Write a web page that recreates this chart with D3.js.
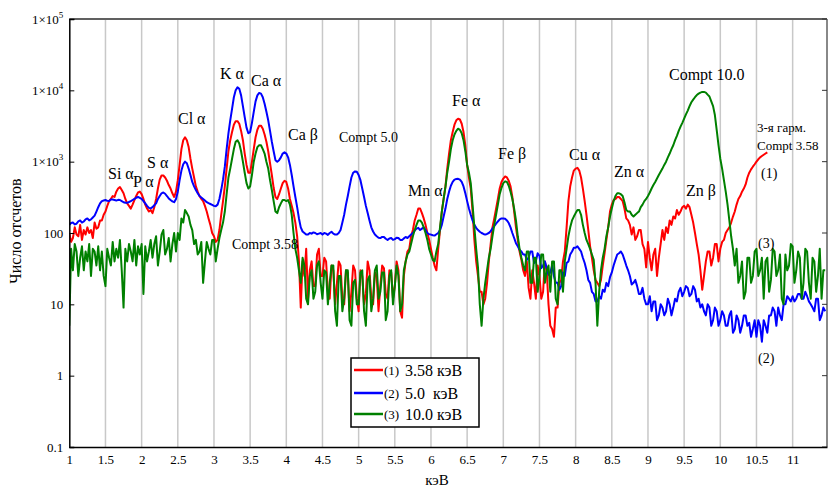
<!DOCTYPE html>
<html>
<head>
<meta charset="utf-8">
<script src="https://cdn.jsdelivr.net/npm/d3@7"></script>
<style>
  body { margin: 0; background: #fff; }
  svg { display: block; font-family: "Liberation Serif", "DejaVu Serif", serif; }
</style>
</head>
<body>
<div id="chart"></div>
<script>
// channel grid: 1.00 keV, step 0.025 keV (one row = 0.5 keV)
var startKeV = 1.0;
var stepKeV = 0.025;

// (1) 3.58 keV excitation
var counts358 = [
  100, 75, 85, 120, 95, 90, 130, 80, 110, 95, 120, 100, 110, 85, 140, 115, 120, 150, 150, 180,
  200, 240, 280, 300, 330, 320, 380, 420, 440, 400, 360, 300, 260, 240, 220, 250, 290, 330, 370, 380,
  350, 300, 250, 220, 200, 210, 190, 230, 300, 420, 560, 640, 640, 600, 540, 470, 420, 360, 320, 380,
  550, 900, 1500, 2000, 2200, 2000, 1600, 1100, 800, 600, 450, 380, 330, 300, 280, 240, 200, 160, 130, 100,
  90, 75, 80, 110, 180, 280, 450, 800, 1400, 2000, 2600, 3300, 3700, 3700, 3400, 2700, 2000, 1300, 900, 700,
  700, 1000, 1500, 2200, 2800, 3200, 3200, 2900, 2400, 1900, 1400, 950, 650, 430, 320, 300, 350, 420, 500, 540,
  520, 420, 300, 240, 190, 140, 90, 40, 9, 40, 25, 60, 12, 30, 40, 18, 18, 50, 60, 25,
  25, 45, 40, 15, 12, 35, 30, 10, 20, 40, 35, 12, 10, 30, 28, 8, 15, 35, 30, 12,
  8, 30, 25, 10, 14, 40, 30, 12, 10, 28, 25, 8, 18, 35, 32, 14, 12, 30, 28, 12,
  18, 40, 30, 8, 6.5, 25, 40, 55, 60, 90, 110, 150, 180, 220, 220, 190, 160, 130, 100, 80,
  60, 45, 35, 30, 60, 110, 200, 300, 450, 800, 1300, 2000, 2600, 3300, 3800, 4000, 3900, 3400, 2600, 1700,
  900, 600, 420, 200, 80, 40, 25, 15, 15, 10, 12, 20, 40, 70, 120, 160, 220, 300, 420, 520,
  580, 620, 600, 540, 450, 320, 200, 120, 80, 55, 42, 30, 25, 40, 17, 12, 30, 20, 12, 35,
  25, 12, 15, 40, 30, 10, 5, 4.5, 3.5, 9, 9, 20, 22, 40, 55, 120, 280, 450, 600, 750,
  800, 820, 750, 600, 420, 280, 180, 110, 65, 45, 30, 22, 20, 18, 22, 35, 52, 80, 120, 200,
  250, 290, 300, 320, 320, 300, 280, 220, 160, 150, 130, 95, 120, 80, 90, 110, 110, 70, 60, 33,
  75, 45, 30, 50, 60, 25, 45, 70, 110, 80, 120, 100, 150, 130, 170, 160, 210, 180, 200, 230,
  240, 220, 250, 230, 180, 140, 100, 70, 50, 30, 16, 25, 40, 55, 55, 35, 45, 70, 70, 40,
  60, 75, 80, 100, 110, 120, 140, 170, 200, 250, 300, 330, 380, 420, 480, 600, 700, 780, 850, 920,
  1000, 1080, 1150, 1200, 1250, 1300, 1350
];

// (2) 5.0 keV excitation
var counts50 = [
  130, 138, 140, 132, 135, 145, 150, 140, 145, 155, 160, 150, 155, 165, 175, 200, 230, 260, 280, 285,
  290, 282, 280, 295, 295, 290, 285, 292, 290, 280, 270, 265, 265, 272, 280, 290, 300, 312, 320, 310,
  300, 280, 260, 240, 225, 222, 230, 245, 260, 300, 330, 360, 370, 355, 330, 305, 290, 278, 270, 300,
  380, 550, 750, 920, 1000, 950, 800, 650, 520, 450, 400, 360, 330, 315, 300, 285, 270, 262, 255, 248,
  240, 238, 250, 300, 400, 560, 850, 1500, 2500, 3800, 5500, 8000, 10000, 11000, 10500, 8500, 6000, 4200, 3000, 2500,
  2600, 3500, 5000, 7000, 8500, 9200, 9000, 8000, 6500, 5000, 3800, 2700, 1900, 1400, 1050, 1000, 1050, 1150, 1300, 1350,
  1300, 1150, 900, 650, 450, 320, 230, 160, 120, 105, 100, 95, 95, 100, 98, 102, 100, 96, 98, 100,
  95, 100, 98, 94, 100, 104, 98, 95, 95, 100, 110, 140, 180, 250, 330, 450, 600, 700, 730, 720,
  650, 550, 420, 320, 240, 190, 150, 120, 105, 95, 90, 86, 85, 88, 88, 83, 80, 84, 85, 80,
  82, 86, 85, 80, 80, 84, 88, 85, 90, 95, 100, 108, 115, 118, 110, 115, 120, 110, 100, 96,
  95, 93, 92, 96, 100, 110, 130, 170, 220, 300, 380, 460, 520, 560, 570, 575, 560, 520, 450, 360,
  280, 220, 180, 150, 130, 118, 110, 104, 100, 97, 95, 97, 100, 106, 115, 125, 135, 145, 155, 160,
  160, 158, 150, 138, 120, 100, 85, 72, 65, 58, 55, 50, 50, 42, 45, 55, 55, 38, 40, 52,
  48, 32, 35, 40, 32, 26, 28, 35, 25, 20, 20, 16, 18, 28, 25, 38, 40, 50, 55, 62,
  62, 65, 60, 55, 45, 38, 30, 22, 20, 15, 14, 11, 11, 13, 12, 16, 15, 20, 18, 24,
  28, 35, 42, 50, 52, 55, 50, 42, 35, 30, 25, 19, 20, 22, 18, 14, 14, 17, 12, 10,
  10, 13, 8, 11, 11, 6, 7, 10, 9, 7, 8, 12, 10, 7, 9, 12, 11, 15, 17, 13,
  15, 18, 17, 13, 14, 18, 16, 11, 12, 9, 10, 8, 7, 10, 9, 5, 6, 9, 8, 5,
  6, 8, 7, 5, 5, 7, 8, 4, 4.5, 7, 6, 4, 5, 7, 7, 5, 5.5, 3.5, 4.5, 6,
  3.5, 6, 5, 3, 6, 5, 4, 7, 7, 9, 8, 5, 9, 7, 6, 10, 10, 13, 12, 11,
  13, 11, 12, 14, 14, 12, 12, 15, 13, 11, 10, 9, 8, 12, 12, 6, 7, 9, 8
];

// (3) 10.0 keV excitation
var counts100 = [
  5, 60, 30, 70, 55, 25, 45, 65, 30, 55, 40, 70, 25, 60, 55, 35, 65, 30, 55, 25,
  18, 60, 45, 35, 75, 40, 60, 45, 80, 30, 9, 60, 40, 70, 55, 40, 80, 35, 65, 50,
  70, 14, 65, 40, 55, 80, 45, 70, 90, 35, 55, 95, 110, 50, 60, 85, 40, 70, 100, 55,
  100, 80, 160, 140, 210, 190, 170, 130, 110, 70, 80, 50, 55, 75, 20, 40, 75, 60, 50, 80,
  80, 40, 60, 85, 110, 140, 200, 350, 600, 800, 1100, 1500, 1900, 2000, 1800, 1400, 1000, 700, 500, 420,
  450, 650, 1000, 1300, 1600, 1700, 1700, 1500, 1300, 1000, 800, 550, 400, 280, 200, 190, 230, 260, 290, 290,
  280, 290, 250, 180, 100, 60, 45, 30, 20, 45, 35, 12, 10, 25, 30, 12, 15, 35, 40, 20,
  12, 30, 28, 10, 20, 35, 35, 8, 5, 25, 25, 8, 12, 30, 30, 6, 5, 20, 22, 10,
  10, 28, 30, 8, 5, 22, 25, 8, 12, 30, 35, 12, 15, 28, 28, 6, 8, 25, 30, 10,
  18, 35, 25, 8, 10, 30, 40, 50, 55, 70, 90, 110, 130, 150, 150, 140, 120, 100, 80, 60,
  50, 42, 40, 55, 70, 120, 200, 300, 440, 700, 1000, 1500, 2000, 2400, 2700, 2900, 2800, 2500, 2000, 1400,
  900, 700, 500, 250, 120, 60, 33, 10, 5, 12, 20, 30, 45, 60, 90, 130, 180, 250, 350, 430,
  500, 530, 520, 460, 380, 300, 220, 150, 90, 60, 45, 35, 30, 55, 55, 20, 20, 45, 45, 15,
  25, 50, 50, 20, 30, 35, 15, 40, 40, 12, 10, 30, 30, 15, 40, 60, 90, 120, 150, 170,
  190, 210, 210, 180, 130, 100, 80, 70, 60, 50, 42, 20, 5, 15, 30, 45, 60, 90, 120, 170,
  220, 280, 330, 360, 360, 350, 330, 270, 210, 200, 200, 180, 170, 180, 190, 200, 230, 250, 280, 300,
  330, 370, 420, 470, 520, 580, 650, 720, 800, 900, 1000, 1150, 1300, 1500, 1700, 2000, 2300, 2700, 3100, 3500,
  4000, 4600, 5200, 6000, 6800, 7400, 8000, 8600, 9000, 9300, 9500, 9500, 9300, 8700, 8200, 7000, 6000, 4500, 2800, 1700,
  1100, 800, 550, 380, 250, 150, 90, 60, 35, 60, 20, 25, 40, 12, 15, 45, 45, 20, 25, 55,
  60, 25, 30, 45, 12, 40, 45, 15, 22, 60, 55, 25, 30, 50, 12, 10, 50, 30, 35, 70,
  65, 20, 30, 55, 45, 12, 20, 60, 55, 20, 12, 45, 40, 15, 25, 60, 12, 30, 30
];

var seriesNames = ["(1)", "(2)", "(3)"];
var seriesLabels = ["3.58 кэВ", "5.0  кэВ", "10.0 кэВ"];
var xTicks = [1, 1.5, 2, 2.5, 3, 3.5, 4, 4.5, 5, 5.5, 6, 6.5, 7, 7.5, 8, 8.5, 9, 9.5, 10, 10.5, 11];
var yTicks = [0.1, 1, 10, 100, 1000, 10000, 100000];

var peakLabels = ["Si α", "P α", "S α", "Cl α", "K α", "Ca α", "Ca β", "Compt 5.0", "Compt 3.58",
  "Mn α", "Fe α", "Fe β", "Cu α", "Zn α", "Zn β", "Compt 10.0",
  "3-я гарм.", "Compt 3.58", "(1)", "(3)", "(2)"];

function drawSpectra(elementId) {
  var W = 828, H = 488;
  var left = 69.3, right = 827, top = 19, bottom = 447;

  var svg = d3
    .select(elementId)
    .append("svg")
    .attr("width", W)
    .attr("height", H);

  var x = d3.scaleLinear().domain([1, 11.475]).range([left, right]);
  var y = d3.scaleLog().domain([0.1, 100000]).range([bottom, top]);

  // vertical grid
  svg
    .append("g")
    .selectAll("line")
    .data(xTicks.slice(1))
    .enter()
    .append("line")
    .attr("x1", function (d) { return x(d); })
    .attr("x2", function (d) { return x(d); })
    .attr("y1", top)
    .attr("y2", bottom)
    .attr("stroke", "#c8c8c8")
    .attr("stroke-width", 1.5);

  // frame top and right
  svg.append("line").attr("x1", left).attr("x2", right).attr("y1", top).attr("y2", top)
    .attr("stroke", "#606060").attr("stroke-width", 2);
  svg.append("line").attr("x1", right).attr("x2", right).attr("y1", top).attr("y2", bottom)
    .attr("stroke", "#606060").attr("stroke-width", 1.5);
  svg.append("g")
    .selectAll("line")
    .data(yTicks)
    .enter()
    .append("line")
    .attr("x1", right - 5)
    .attr("x2", right)
    .attr("y1", function (d) { return y(d); })
    .attr("y2", function (d) { return y(d); })
    .attr("stroke", "#333");

  // data
  svg.append("clipPath").attr("id", "plotclip")
    .append("rect").attr("x", left).attr("y", top).attr("width", right - left).attr("height", bottom - top);

  function toPoints(arr) {
    return arr.map(function (v, i) {
      return { e: startKeV + i * stepKeV, v: v };
    });
  }

  var line = d3.line()
    .x(function (d) { return x(d.e); })
    .y(function (d) { return y(d.v); });

  var series = [
    { pts: toPoints(counts358), color: "#ff0000" },
    { pts: toPoints(counts50), color: "#0000ff" },
    { pts: toPoints(counts100), color: "#008000" }
  ];

  svg.append("g")
    .attr("clip-path", "url(#plotclip)")
    .selectAll("path")
    .data(series)
    .enter()
    .append("path")
    .attr("d", function (d) { return line(d.pts); })
    .attr("fill", "none")
    .attr("stroke", function (d) { return d.color; })
    .attr("stroke-width", 2)
    .attr("stroke-linejoin", "round");

  // axes
  var yAxis = svg.append("g")
    .attr("transform", "translate(" + left + ",0)")
    .call(d3.axisLeft(y).tickValues(yTicks).tickSize(-5).tickPadding(6).tickFormat(function (d) {
      return d >= 1000 ? "" : String(d);
    }));
  yAxis.attr("font-family", null);
  yAxis.select(".domain").attr("stroke", "#000").attr("stroke-width", 1.5);
  yAxis.selectAll("text").attr("font-size", 13).attr("fill", "#000");
  yAxis.selectAll(".tick").filter(function (d) { return d >= 1000; })
    .select("text")
    .each(function (d) {
      var t = d3.select(this);
      t.append("tspan").text("1×10");
      t.append("tspan").attr("dy", -6).attr("font-size", 9).text(Math.round(Math.log10(d)));
    });

  var xAxis = svg.append("g")
    .attr("transform", "translate(0," + bottom + ")")
    .call(d3.axisBottom(x).tickValues(xTicks).tickSize(0).tickPadding(8).tickFormat(function (d) {
      return String(d);
    }));
  xAxis.attr("font-family", null);
  xAxis.select(".domain").attr("stroke", "#000").attr("stroke-width", 1.5);
  xAxis.selectAll("text").attr("font-size", 13).attr("fill", "#000");

  // axis titles
  svg.append("text")
    .attr("transform", "translate(21,231) rotate(-90)")
    .attr("text-anchor", "middle")
    .attr("font-size", 16)
    .text("Число отсчетов");

  svg.append("text")
    .attr("x", 437)
    .attr("y", 485)
    .attr("text-anchor", "middle")
    .attr("font-size", 15)
    .text("кэВ");

  // peak annotations
  var labelPos = [
    [108, 179, 16], [133, 187, 16], [147, 168, 16], [178, 124, 16], [220, 79, 16], [251, 86, 16],
    [288, 140, 16], [339, 142, 14], [232, 249, 14], [408, 196, 16], [452, 106, 16], [498, 159, 16],
    [569, 160, 16], [614, 177, 16], [686, 196, 16], [669, 80, 16],
    [757, 132, 13], [757, 150, 13], [761, 178, 14], [758, 248, 14], [758, 363, 14]
  ];
  svg.append("g")
    .selectAll("text")
    .data(peakLabels)
    .enter()
    .append("text")
    .attr("x", function (d, i) { return labelPos[i][0]; })
    .attr("y", function (d, i) { return labelPos[i][1]; })
    .attr("font-size", function (d, i) { return labelPos[i][2]; })
    .text(function (d) { return d; });

  // legend
  var lg = svg.append("g").attr("transform", "translate(351,358)");
  lg.append("rect")
    .attr("width", 128)
    .attr("height", 69)
    .attr("fill", "#fff")
    .attr("stroke", "#000")
    .attr("stroke-width", 1.5);
  var rowY = [12, 35, 56];
  series.forEach(function (s, i) {
    lg.append("line")
      .attr("x1", 3).attr("x2", 32)
      .attr("y1", rowY[i]).attr("y2", rowY[i])
      .attr("stroke", s.color).attr("stroke-width", 2.5);
    lg.append("text")
      .attr("x", 33).attr("y", rowY[i] + 4.5)
      .attr("font-size", 13)
      .text(seriesNames[i]);
    lg.append("text")
      .attr("x", 54).attr("y", rowY[i] + 5.5)
      .attr("font-size", 16)
      .style("white-space", "pre")
      .text(seriesLabels[i]);
  });
}

drawSpectra("#chart");
</script>
</body>
</html>
